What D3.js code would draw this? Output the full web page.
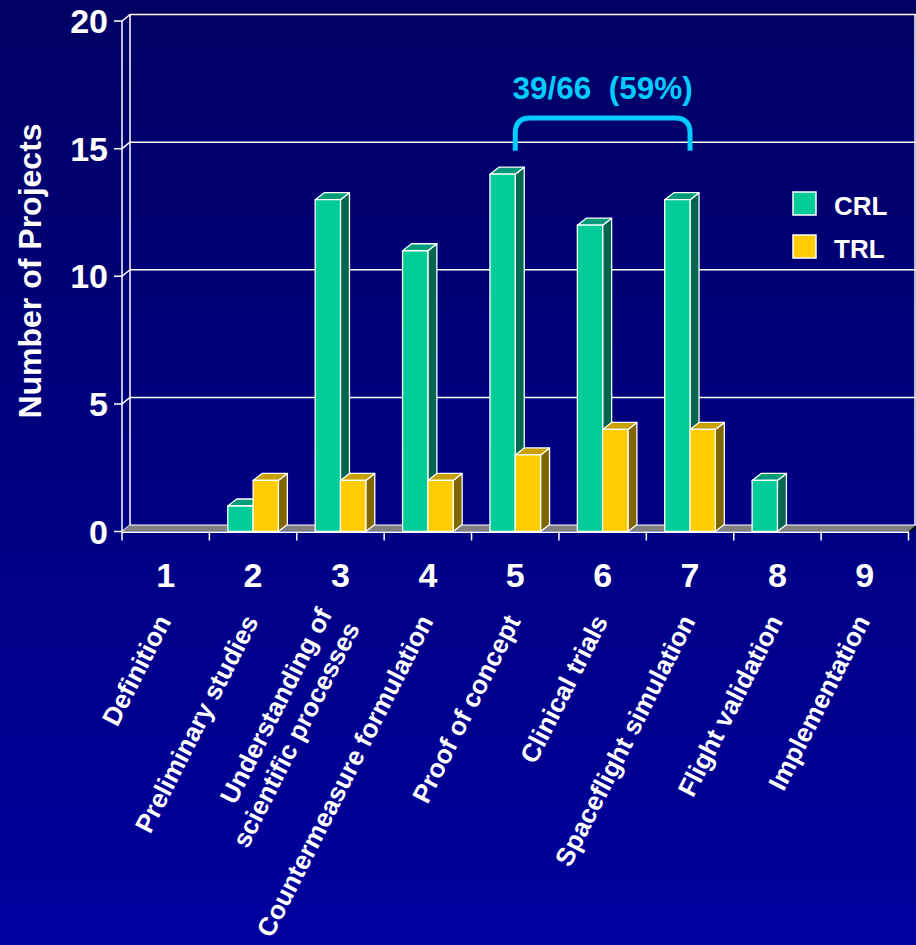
<!DOCTYPE html>
<html>
<head>
<meta charset="utf-8">
<script src="https://cdn.jsdelivr.net/npm/d3@7"></script>
<style>
  html, body { margin: 0; padding: 0; background: #000080; }
  svg { display: block; }
  text { font-family: "Liberation Sans", Arial, sans-serif; font-weight: bold; }
</style>
</head>
<body>
<svg id="chart" width="916" height="945"></svg>
<script>
// ---- data ----
const categories = ["1", "2", "3", "4", "5", "6", "7", "8", "9"];
const categoryNames = [
  ["Definition"],
  ["Preliminary studies"],
  ["Understanding of", "scientific processes"],
  ["Countermeasure formulation"],
  ["Proof of concept"],
  ["Clinical trials"],
  ["Spaceflight simulation"],
  ["Flight validation"],
  ["Implementation"]
];
const seriesNames = ["CRL", "TRL"];
const crlValues = [0, 1, 13, 11, 14, 12, 13, 2, 0];
const trlValues = [0, 2, 2, 2, 3, 4, 4, 0, 0];
const yTicks = [0, 5, 10, 15, 20];
const yTitle = "Number of Projects";
const annotationText = "39/66  (59%)";
const annotationRange = ["5", "7"];

// ---- styles ----
const colors = {
  CRL: { front: "#00CC99", top: "#009B78", side: "#006650" },
  TRL: { front: "#FFCC00", top: "#C9A000", side: "#806600" }
};
const cyan = "#00CCFF";

const svg = d3.select("#chart");
const W = 916, H = 945;

// background gradient
const defs = svg.append("defs");
const grad = defs.append("linearGradient").attr("id", "bg")
  .attr("x1", 0).attr("y1", 0).attr("x2", 0).attr("y2", 1);
grad.append("stop").attr("offset", "0%").attr("stop-color", "#000064");
grad.append("stop").attr("offset", "100%").attr("stop-color", "#00009E");
svg.append("rect").attr("width", W).attr("height", H).attr("fill", "url(#bg)");

// scales
const x0 = d3.scaleBand().domain(categories).range([122, 908.5]).paddingInner(0).paddingOuter(0);
const x1 = d3.scaleBand().domain(seriesNames).range([0, x0.bandwidth()]).paddingInner(0).paddingOuter(0.727);
const y = d3.scaleLinear().domain([0, 20]).range([531.5, 21]);

const wallDX = 8, wallDY = 6.5;   // back-plane offset
const barDX = 9, barDY = 7;       // bar depth
const xLeft = x0.range()[0];
const xRightBack = 916;

// ---- back wall / gridlines ----
const grid = svg.append("g");
yTicks.forEach(t => {
  const yf = y(t), yb = y(t) - wallDY;
  grid.append("path")
    .attr("d", `M${xLeft - 8},${yf}L${xLeft},${yf}L${xLeft + wallDX},${yb}`)
    .attr("fill", "none").attr("stroke", "#fff").attr("stroke-width", 1.5);
  if (t > 0) {
    grid.append("line")
      .attr("x1", xLeft + wallDX).attr("x2", xRightBack)
      .attr("y1", yb).attr("y2", yb)
      .attr("stroke", "#fff").attr("stroke-width", 1.5);
  }
});
grid.append("line").attr("x1", xLeft).attr("x2", xLeft)
  .attr("y1", y(20)).attr("y2", y(0) + 9).attr("stroke", "#fff").attr("stroke-width", 1.5);
grid.append("line").attr("x1", xLeft + wallDX).attr("x2", xLeft + wallDX)
  .attr("y1", y(20) - wallDY).attr("y2", y(0) - wallDY).attr("stroke", "#fff").attr("stroke-width", 1.5);
grid.append("line").attr("x1", xRightBack - 1).attr("x2", xRightBack - 1)
  .attr("y1", y(20) - wallDY).attr("y2", y(0) - wallDY).attr("stroke", "#fff").attr("stroke-width", 1.5);

// ---- floor ----
const xRightFront = x0.range()[1];
svg.append("path")
  .attr("d", `M${xLeft},${y(0)}L${xLeft + wallDX},${y(0) - wallDY}L${xRightBack},${y(0) - wallDY}L${xRightFront},${y(0)}Z`)
  .attr("fill", "#808080").attr("stroke", "none");
svg.append("path")
  .attr("d", `M${xRightFront},${y(0)}L${xRightBack},${y(0) - wallDY}L${xRightBack},${y(0) - wallDY + 3}L${xRightFront},${y(0) + 2}Z`)
  .attr("fill", "#111");
svg.append("line").attr("x1", xLeft + wallDX).attr("x2", xRightBack)
  .attr("y1", y(0) - wallDY).attr("y2", y(0) - wallDY).attr("stroke", "#fff").attr("stroke-width", 1.2);
svg.append("line").attr("x1", xLeft).attr("x2", xRightFront)
  .attr("y1", y(0) + 0.8).attr("y2", y(0) + 0.8).attr("stroke", "#fff").attr("stroke-width", 1.5);

categories.forEach(c => {
  const xe = x0(c) + x0.bandwidth();
  svg.append("line").attr("x1", xe).attr("x2", xe)
    .attr("y1", y(0)).attr("y2", y(0) + 9)
    .attr("stroke", "#fff").attr("stroke-width", 1.5);
});

// ---- bars ----
const barData = [];
categories.forEach((c, i) => {
  barData.push({ cat: c, series: "CRL", value: crlValues[i] });
  barData.push({ cat: c, series: "TRL", value: trlValues[i] });
});
const bars = svg.append("g");
barData.filter(d => d.value > 0).forEach(d => {
  const bx = x0(d.cat) + x1(d.series);
  const bw = x1.bandwidth();
  const yt = y(d.value), yb = y(0);
  const col = colors[d.series];
  const g = bars.append("g").attr("stroke", "#fff").attr("stroke-width", 1.3).attr("stroke-linejoin", "round");
  g.append("path")
    .attr("d", `M${bx + bw},${yt}L${bx + bw + barDX},${yt - barDY}L${bx + bw + barDX},${yb - barDY}L${bx + bw},${yb}Z`)
    .attr("fill", col.side);
  g.append("path")
    .attr("d", `M${bx},${yt}L${bx + barDX},${yt - barDY}L${bx + bw + barDX},${yt - barDY}L${bx + bw},${yt}Z`)
    .attr("fill", col.top);
  g.append("rect").attr("x", bx).attr("y", yt).attr("width", bw).attr("height", yb - yt)
    .attr("fill", col.front);
});

// ---- y tick labels ----
svg.append("g").selectAll("text").data(yTicks).join("text")
  .attr("x", 108).attr("y", d => y(d)).attr("dy", "0.36em")
  .attr("text-anchor", "end").attr("fill", "#fff").attr("font-size", 34)
  .text(d => d);

// y title
svg.append("text")
  .attr("transform", `translate(41,${271}) rotate(-90)`)
  .attr("text-anchor", "middle").attr("fill", "#fff").attr("font-size", 32)
  .text(yTitle);

// category numbers
svg.append("g").selectAll("text").data(categories).join("text")
  .attr("x", d => x0(d) + x0.bandwidth() / 2).attr("y", 587)
  .attr("text-anchor", "middle").attr("fill", "#fff").attr("font-size", 34)
  .text(d => d);

// rotated category names
const ang = -63;
const rad = ang * Math.PI / 180;
const lineH = 31;
categories.forEach((c, i) => {
  const lines = categoryNames[i];
  const cx = x0(c) + x0.bandwidth() / 2 + 6;
  const cy = 621;
  lines.forEach((ln, j) => {
    const off = (j - (lines.length - 1) / 2) * lineH;
    const px = cx + off * (-Math.sin(rad));
    const py = cy + off * Math.cos(rad);
    svg.append("text")
      .attr("transform", `translate(${px},${py}) rotate(${ang})`)
      .attr("text-anchor", "end").attr("fill", "#fff").attr("font-size", 26)
      .text(ln);
  });
});

// ---- legend ----
const legend = svg.append("g");
seriesNames.forEach((s, i) => {
  const ly = 192 + i * 43;
  legend.append("rect").attr("x", 793).attr("y", ly).attr("width", 23).attr("height", 23)
    .attr("fill", colors[s].front).attr("stroke", "#fff").attr("stroke-width", 1.5);
  legend.append("text").attr("x", 834).attr("y", ly + 23).attr("fill", "#fff")
    .attr("font-size", 26).text(s);
});

// ---- annotation bracket ----
const ax1 = x0(annotationRange[0]) + x0.bandwidth() / 2;
const ax2 = x0(annotationRange[1]) + x0.bandwidth() / 2;
const yLow = y(15) + 2, yHigh = y(16.2);
const r = 15;
const p = d3.path();
p.moveTo(ax1, yLow);
p.lineTo(ax1, yHigh + r);
p.quadraticCurveTo(ax1, yHigh, ax1 + r, yHigh);
p.lineTo(ax2 - r, yHigh);
p.quadraticCurveTo(ax2, yHigh, ax2, yHigh + r);
p.lineTo(ax2, yLow);
svg.append("path").attr("d", p.toString()).attr("fill", "none")
  .attr("stroke", cyan).attr("stroke-width", 5);
svg.append("text").attr("x", (ax1 + ax2) / 2).attr("y", yHigh - 19)
  .attr("text-anchor", "middle").attr("fill", cyan).attr("font-size", 31.5)
  .style("white-space", "pre").text(annotationText);
</script>
</body>
</html>
